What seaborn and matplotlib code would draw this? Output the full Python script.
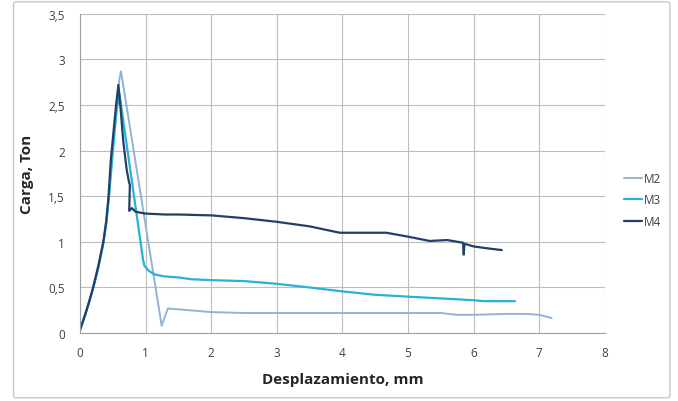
import numpy as np
import pandas as pd
import matplotlib
matplotlib.use("Agg")
import matplotlib.pyplot as plt
from matplotlib.patches import FancyBboxPatch
import seaborn as sns

# Data (displacement mm, load Ton)
m2_x = [0.0, 0.05, 0.1, 0.15, 0.2, 0.28, 0.355, 0.4, 0.44, 0.48, 0.52, 0.56, 0.6, 0.625, 1.245, 1.34,
        1.5, 2.0, 2.5, 3.0, 3.5, 4.0, 4.5, 5.0, 5.5, 5.74, 6.0, 6.5, 6.8, 7.0, 7.19]
m2_y = [0.04, 0.14, 0.25, 0.37, 0.49, 0.72, 0.98, 1.2, 1.5, 1.85, 2.2, 2.52, 2.78, 2.87, 0.08, 0.27,
        0.26, 0.23, 0.22, 0.22, 0.22, 0.22, 0.22, 0.22, 0.22, 0.2, 0.2, 0.21, 0.21, 0.2, 0.165]

m3_x = [0.0, 0.05, 0.1, 0.15, 0.2, 0.28, 0.355, 0.4, 0.44, 0.48, 0.52, 0.56, 0.6, 0.96, 0.98, 1.05,
        1.15, 1.3, 1.5, 1.7, 2.0, 2.5, 3.0, 3.5, 3.96, 4.5, 4.98, 5.5, 6.0, 6.15, 6.4, 6.63]
m3_y = [0.04, 0.14, 0.25, 0.37, 0.49, 0.72, 0.98, 1.2, 1.48, 1.82, 2.15, 2.45, 2.63, 0.81, 0.74, 0.68,
        0.64, 0.62, 0.61, 0.59, 0.58, 0.57, 0.54, 0.5, 0.46, 0.42, 0.4, 0.38, 0.36, 0.35, 0.35, 0.35]

m4_x = [0.0, 0.05, 0.1, 0.15, 0.2, 0.28, 0.355, 0.4, 0.435, 0.47, 0.51, 0.55, 0.585, 0.62, 0.66,
        0.71, 0.74, 0.76, 0.75, 0.79, 0.85, 1.0, 1.3, 1.5, 2.01, 2.5, 3.0, 3.5, 3.96, 4.3, 4.67, 4.98,
        5.33, 5.6, 5.84, 5.85, 5.86, 6.0, 6.2, 6.43]
m4_y = [0.03, 0.14, 0.25, 0.37, 0.5, 0.74, 1.0, 1.23, 1.5, 1.9, 2.2, 2.5, 2.72, 2.45, 2.1,
        1.8, 1.68, 1.62, 1.34, 1.37, 1.33, 1.31, 1.3, 1.3, 1.29, 1.26, 1.22, 1.17, 1.1, 1.1, 1.1, 1.06,
        1.01, 1.02, 0.99, 0.86, 0.98, 0.95, 0.93, 0.91]

series = ["M2", "M3", "M4"]
colors = {"M2": "#93b3d6", "M3": "#27b2d8", "M4": "#213f68"}

x_ticks = [0, 1, 2, 3, 4, 5, 6, 7, 8]
y_ticks = [0, 0.5, 1, 1.5, 2, 2.5, 3, 3.5]
y_labels = ["0", "0,5", "1", "1,5", "2", "2,5", "3", "3,5"]

frames = []
for name, xs, ys in [("M2", m2_x, m2_y), ("M3", m3_x, m3_y), ("M4", m4_x, m4_y)]:
    d = pd.DataFrame({"x": xs, "y": ys, "serie": name})
    d["order"] = np.arange(len(d))
    frames.append(d)
df = pd.concat(frames, ignore_index=True)

sns.set_style("white")
plt.rcParams["font.family"] = ["Open Sans", "DejaVu Sans"]

fig = plt.figure(figsize=(6.78, 4.02), dpi=100)
ax = fig.add_axes([0.118, 0.169, 0.774, 0.794])

# chart area border
fig.patches.append(FancyBboxPatch((0.02, 0.008), 0.968, 0.985, boxstyle="round,pad=0,rounding_size=0.004",
                                  transform=fig.transFigure, fill=False, edgecolor="#c8c8c8", lw=1.0))

for name in series:
    d = df[df["serie"] == name]
    sns.lineplot(data=d, x="x", y="y", sort=False, estimator=None, color=colors[name],
                 lw=1.6 if name != "M2" else 1.4, label=name, ax=ax)

ax.set_xlim(0, 8)
ax.set_ylim(0, 3.5)
ax.set_xticks(x_ticks)
ax.set_yticks(y_ticks)
ax.set_yticklabels(y_labels)
ax.grid(True, color="#bdbdbd", lw=0.8)
for s in ["top", "right"]:
    ax.spines[s].set_visible(False)
for s in ["left", "bottom"]:
    ax.spines[s].set_color("#a0a0a0")
    ax.spines[s].set_linewidth(0.8)
ax.tick_params(axis="both", labelsize=8.5, colors="#404040", length=3, color="#a0a0a0", direction="out")
ax.tick_params(axis="x", pad=6)
ax.tick_params(axis="y", pad=8)

ax.set_xlabel("Desplazamiento, mm", fontsize=11, fontweight="bold", labelpad=10)
ax.set_ylabel("Carga, Ton", fontsize=11, fontweight="bold", labelpad=10)

handles, labels = ax.get_legend_handles_labels()
ax.get_legend().remove()
fig.legend(handles, labels, loc="center left", bbox_to_anchor=(0.905, 0.5), frameon=False,
           fontsize=8.5, handlelength=1.5, handletextpad=0.2, labelspacing=0.7, labelcolor="#404040")

fig.savefig("out.png", dpi=100)
